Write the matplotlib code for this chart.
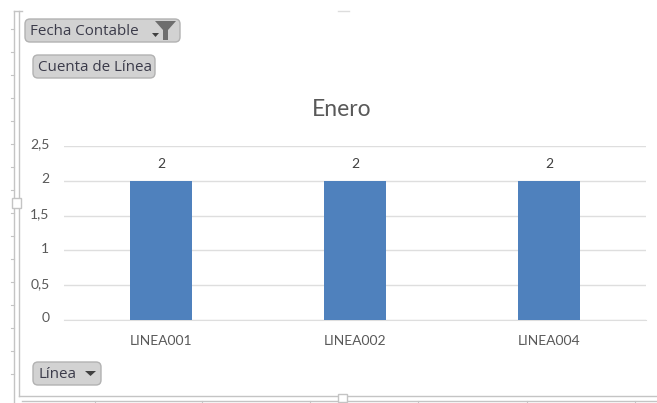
import matplotlib
matplotlib.use("Agg")
import matplotlib.pyplot as plt
from matplotlib.patches import FancyBboxPatch, Polygon, Rectangle

# Pivot chart data
categories = ["LINEA001", "LINEA002", "LINEA004"]
counts = [2, 2, 2]
y_ticks = [0, 0.5, 1, 1.5, 2, 2.5]
y_tick_labels = ["0", "0,5", "1", "1,5", "2", "2,5"]

W, H = 657, 403
TEXT = "#595959"
GRID = "#dedede"
BAR = "#4f81bd"
FRAME = "#c4c4c4"

plt.rcParams["font.family"] = ["Lato", "DejaVu Sans"]
fig = plt.figure(figsize=(W / 100, H / 100), dpi=100, facecolor="white")

# Plot area
ax = fig.add_axes([64 / W, 1 - 320 / H, 582 / W, 174 / H])
x = range(len(categories))
ax.bar(x, counts, width=0.315, color=BAR, zorder=3)
ax.set_xlim(-0.5, 2.5)
ax.set_ylim(0, 2.5)
ax.set_yticks(y_ticks, y_tick_labels)
ax.set_xticks(list(x), categories)
ax.tick_params(length=0, labelcolor=TEXT, labelsize=10)
ax.tick_params(axis="y", pad=10.5)
ax.tick_params(axis="x", pad=10.5)
for label in ax.get_yticklabels():
    label.set_y(0)
    label.set_verticalalignment("center")
    label.set_transform(label.get_transform()
                        + matplotlib.transforms.ScaledTranslation(0, 1.5 / 100, fig.dpi_scale_trans))
ax.grid(axis="y", color=GRID, lw=1, zorder=0)
for name, spine in ax.spines.items():
    spine.set_visible(name == "bottom")
ax.spines["bottom"].set_color(GRID)
for xi, v in zip(x, counts):
    ax.annotate(str(v), (xi, v), xytext=(0, 7.5), textcoords="offset points",
                ha="center", va="bottom", color="#404040", fontsize=10)
fig.text(341.5 / W, 1 - 109 / H, "Enero", ha="center", va="center",
         color=TEXT, fontsize=16.5)

# Overlay in pixel coordinates for the pivot field buttons and chart frame
ov = fig.add_axes([0, 0, 1, 1], zorder=5)
ov.set_xlim(0, W)
ov.set_ylim(H, 0)
ov.axis("off")
ov.patch.set_alpha(0)


def field_button(x0, y0, x1, y1, label, tx):
    ov.add_patch(FancyBboxPatch((x0 + 4, y0 + 4), x1 - x0 - 8, y1 - y0 - 8,
                                boxstyle="round,pad=4,rounding_size=5",
                                fc="#d2d2d2", ec="#b2b2b2", lw=1))
    ov.text(tx, (y0 + y1) / 2 + 1, label, ha="left", va="center",
            color="#3b3b4a", fontsize=10.9, family="Open Sans")


field_button(25, 19, 180, 42, "Fecha Contable", 30)
field_button(33, 55, 155, 78, "Cuenta de Línea", 38)
field_button(33, 362, 101, 385, "Línea", 38)

# Filter funnel and dropdown arrows
ov.add_patch(Polygon([(155, 21), (176, 21), (168, 30), (168, 40), (163, 40), (163, 30)],
                     closed=True, fc="#6e6e6e", ec="none"))
ov.add_patch(Polygon([(152, 33), (159, 33), (155.5, 37)], closed=True, fc="#404040", ec="none"))
ov.add_patch(Polygon([(85, 371), (96, 371), (90.5, 376)], closed=True, fc="#404040", ec="none"))

# Chart frame with ruler marks and selection handles
ov.plot([14, 14], [11, 403], color=FRAME, lw=1)
ov.plot([19, 19], [11, 396], color=FRAME, lw=1)
ov.plot([14, 22], [11, 11], color=FRAME, lw=1)
ov.plot([19, 657], [396, 396], color=FRAME, lw=1)
ov.plot([22, 657], [401, 401], color=FRAME, lw=1)
ov.plot([338, 349], [11, 11], color="#dddddd", lw=1)
for ry in range(29, 395, 23):
    ov.plot([11, 14], [ry, ry], color=FRAME, lw=0.8)
for rx in (95, 202, 310, 418, 527, 635):
    ov.plot([rx, rx], [401, 403], color=FRAME, lw=0.8)
ov.add_patch(Rectangle((12, 198), 9, 10, fc="white", ec=FRAME, lw=1, zorder=4))
ov.add_patch(Rectangle((338, 394), 9, 8, fc="white", ec=FRAME, lw=1, zorder=4))

fig.savefig("out.png", dpi=100)
